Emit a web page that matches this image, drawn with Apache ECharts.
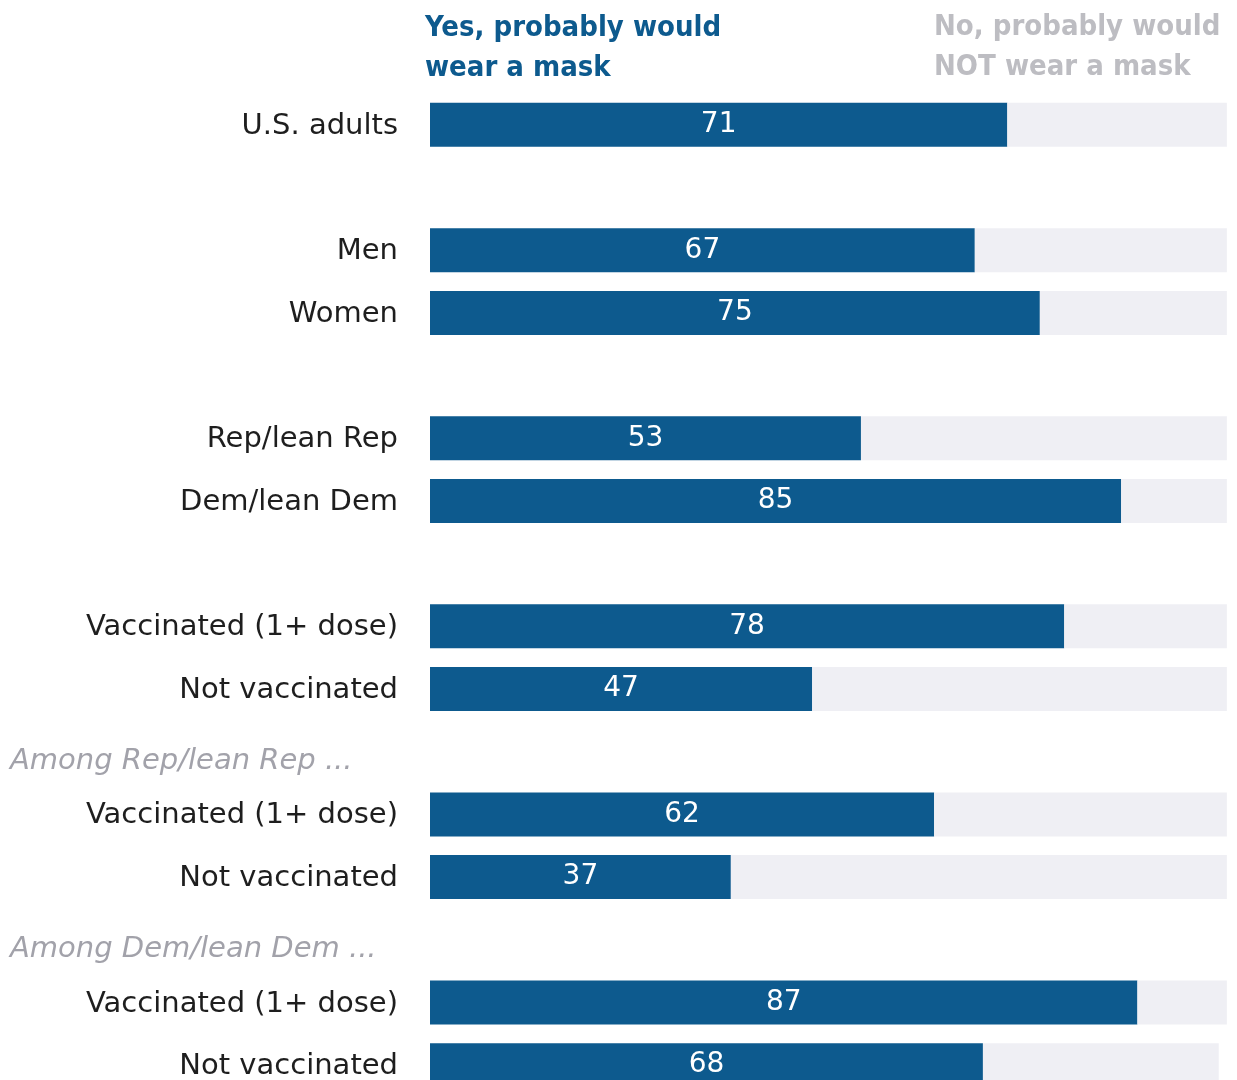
<!DOCTYPE html>
<html>
<head>
<meta charset="utf-8">
<script src="https://cdn.jsdelivr.net/npm/echarts@6/dist/echarts.min.js"></script>
<style>
  html, body { margin: 0; padding: 0; background: #fff; }
  #main { width: 1237px; height: 1080px; }
</style>
</head>
<body>
<div id="main"></div>
<script>
// rows, blank strings are spacer rows, '#' rows are group headers
var categories = ['U.S. adults', '', 'Men', 'Women', '', 'Rep/lean Rep', 'Dem/lean Dem', '',
  'Vaccinated (1+ dose)', 'Not vaccinated', '#Among Rep/lean Rep ...', 'Vaccinated (1+ dose)', 'Not vaccinated',
  '#Among Dem/lean Dem ...', 'Vaccinated (1+ dose)', 'Not vaccinated'];
var yesValues = [71, null, 67, 75, null, 53, 85, null, 78, 47, null, 62, 37, null, 87, 68];
var noValues  = [27, null, 31, 23, null, 45, 13, null, 20, 51, null, 36, 61, null, 11, 29];

var blue = '#0d5a8e';
var headFont = '"DejaVu Sans Condensed", "Liberation Sans Narrow", "DejaVu Sans", sans-serif';
var chart = echarts.init(document.getElementById('main'));

var option = {
  backgroundColor: '#ffffff',
  animation: false,
  title: [{
    text: 'Yes, probably would\nwear a mask',
    left: 420, top: 3,
    textStyle: { color: blue, fontFamily: headFont, fontWeight: 'bold', fontSize: 29, lineHeight: 40 }
  }, {
    text: 'No, probably would\nNOT wear a mask',
    left: 929, top: 2,
    textStyle: { color: '#bdbdc2', fontFamily: headFont, fontWeight: 'bold', fontSize: 29, lineHeight: 40 }
  }],
  grid: { left: 430, top: 93.5, height: 1003, width: 805, containLabel: false, outerBoundsMode: 'none' },
  xAxis: { type: 'value', min: 0, max: 99, show: false },
  yAxis: {
    type: 'category',
    inverse: true,
    data: categories,
    axisLine: { show: false },
    axisTick: { show: false },
    axisLabel: {
      margin: 32,
      fontFamily: 'DejaVu Sans',
      fontSize: 29,
      color: '#1e1e1e',
      padding: [3, 0, 0, 0],
      formatter: function (v) {
        if (v.charAt(0) === '#') return '{h|' + v.slice(1) + '}';
        return v;
      },
      rich: {
        h: { width: 388, align: 'left', fontStyle: 'italic', color: '#a2a2aa', fontSize: 29, fontFamily: 'DejaVu Sans', padding: [16, 0, 0, 0] }
      }
    }
  },
  series: [{
    name: 'Yes',
    type: 'bar',
    stack: 'all',
    barWidth: 44,
    data: yesValues,
    itemStyle: { color: blue },
    label: {
      show: true,
      position: 'inside',
      color: '#fff',
      fontFamily: 'DejaVu Sans',
      fontSize: 28
    }
  }, {
    name: 'No',
    type: 'bar',
    stack: 'all',
    barWidth: 44,
    data: noValues,
    itemStyle: { color: '#efeff4' },
    label: { show: false }
  }]
};
chart.setOption(option);
</script>
</body>
</html>
